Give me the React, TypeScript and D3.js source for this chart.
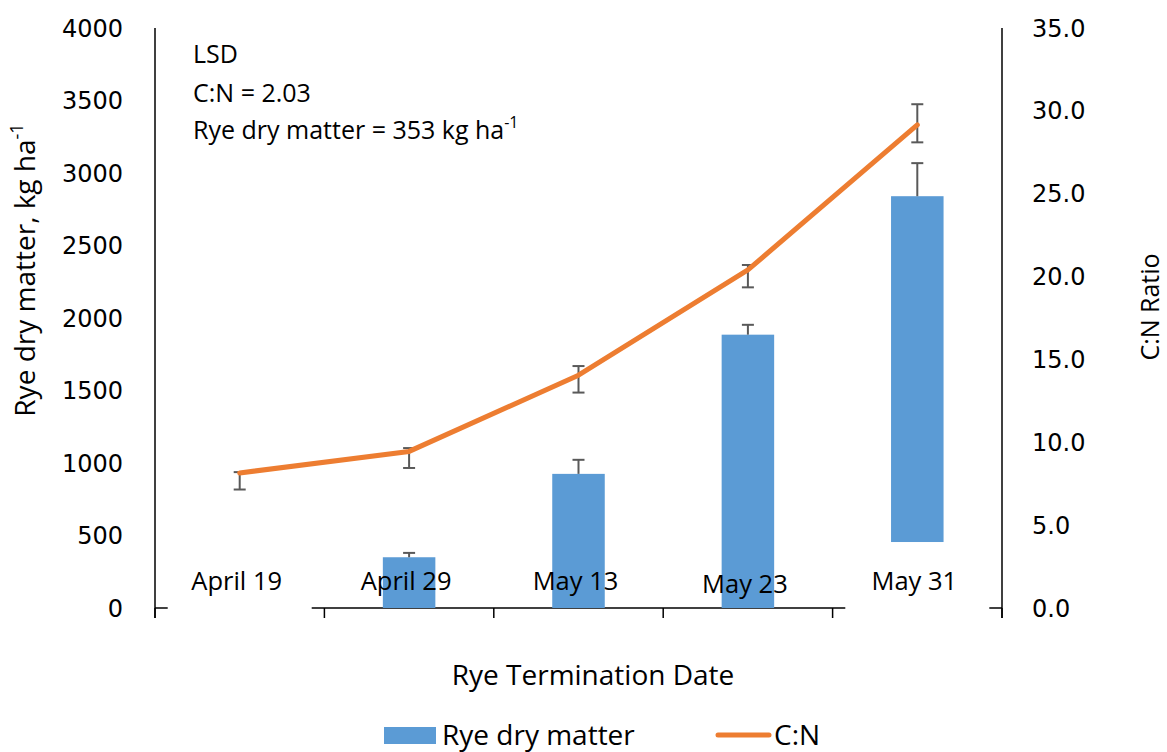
import React from 'react'
import * as d3 from 'd3'

const categories = ['April 19', 'April 29', 'May 13', 'May 23', 'May 31']
// Rye dry matter, kg/ha (no bar for April 19)
const dryMatter: (number | null)[] = [null, 350, 925, 1885, 2840]
const dryMatterErr: (number | null)[] = [null, 30, 97, 68, 228]
// C:N ratio with asymmetric error bars
const cnRatio = [8.15, 9.45, 14.05, 20.4, 29.15]
const cnErrUp = [0.05, 0.2, 0.55, 0.3, 1.25]
const cnErrDown = [1.0, 1.0, 1.05, 1.05, 1.05]
const leftTicks = [0, 500, 1000, 1500, 2000, 2500, 3000, 3500, 4000]
const rightTicks = [0, 5, 10, 15, 20, 25, 30, 35]

const W = 1167
const H = 752
const margin = { top: 28, right: 165, bottom: 144, left: 155 }

const BLUE = '#5B9BD5'
const ORANGE = '#ED7D31'
const ERR = '#595959'
const TXT = 'Open Sans, sans-serif'
const TICK = 'DejaVu Sans, sans-serif'

export default function App() {
    const x0 = margin.left
    const x1 = W - margin.right
    const y0 = H - margin.bottom
    const y1 = margin.top

    const xScale = d3.scaleBand<string>().domain(categories).range([x0, x1]).padding(0)
    const yLeft = d3.scaleLinear().domain([0, 4000]).range([y0, y1])
    const yRight = d3.scaleLinear().domain([0, 35]).range([y0, y1])

    const bw = xScale.bandwidth()
    const barW = bw * 0.31
    const cx = (c: string) => xScale(c)! + bw / 2

    const line = d3
        .line<number>()
        .x((_, i) => cx(categories[i]))
        .y((d) => yRight(d))

    const capW = 12
    const last = categories.length - 1

    return (
        <svg width={W} height={H} style={{ position: 'absolute', left: 0, top: 0 }}>
            <rect width={W} height={H} fill="white" />

            {/* x axis line + ticks */}
            <line x1={x0} x2={x1} y1={y0} y2={y0} stroke="#000" strokeWidth={1.5} />
            {[...categories.map((c) => xScale(c)!), x1].map((t, i) => (
                <line key={i} x1={t} x2={t} y1={y0} y2={y0 + 10} stroke="#000" strokeWidth={1.5} />
            ))}

            {/* bars */}
            {categories.map((c, i) =>
                dryMatter[i] == null ? null : (
                    <rect
                        key={c}
                        x={cx(c) - barW / 2}
                        y={yLeft(dryMatter[i]!)}
                        width={barW}
                        height={y0 - yLeft(dryMatter[i]!)}
                        fill={BLUE}
                    />
                )
            )}
            {/* bar error bars (upward) */}
            {categories.map((c, i) => {
                if (dryMatter[i] == null || dryMatterErr[i] == null) return null
                const yt = yLeft(dryMatter[i]! + dryMatterErr[i]!)
                const yb = yLeft(dryMatter[i]!)
                return (
                    <g key={c} stroke={ERR} strokeWidth={2}>
                        <line x1={cx(c)} x2={cx(c)} y1={yt} y2={yb} />
                        <line x1={cx(c) - capW / 2} x2={cx(c) + capW / 2} y1={yt} y2={yt} />
                    </g>
                )
            })}

            {/* label boxes that sit over the axis for the end categories */}
            {categories.map((c, i) =>
                i === 0 || i === last ? (
                    <rect key={c} x={cx(c) - 72} y={yLeft(455)} width={144} height={y0 + 4 - yLeft(455)} fill="white" />
                ) : null
            )}

            {/* category labels */}
            {categories.map((c, i) => (
                <text key={c} x={cx(c) - 3} y={y0 - (i === 3 ? 15 : 18)} textAnchor="middle" fontFamily={TXT} fontSize={25.5} fill="#000">
                    {c}
                </text>
            ))}

            {/* line error bars */}
            {categories.map((c, i) => {
                const yt = yRight(cnRatio[i] + cnErrUp[i])
                const yb = yRight(cnRatio[i] - cnErrDown[i])
                return (
                    <g key={c} stroke={ERR} strokeWidth={2}>
                        <line x1={cx(c)} x2={cx(c)} y1={yt} y2={yb} />
                        <line x1={cx(c) - capW / 2} x2={cx(c) + capW / 2} y1={yt} y2={yt} />
                        <line x1={cx(c) - capW / 2} x2={cx(c) + capW / 2} y1={yb} y2={yb} />
                    </g>
                )
            })}

            {/* C:N line */}
            <path d={line(cnRatio)!} fill="none" stroke={ORANGE} strokeWidth={5} strokeLinecap="round" strokeLinejoin="round" />

            {/* y axes */}
            <line x1={x0} x2={x0} y1={y1} y2={y0 + 10} stroke="#000" strokeWidth={1.5} />
            <line x1={x1} x2={x1} y1={y1} y2={y0 + 10} stroke="#000" strokeWidth={1.5} />
            {leftTicks.map((t) => (
                <text key={t} x={123} y={yLeft(t)} dy="0.36em" textAnchor="end" fontFamily={TICK} fontSize={24} fill="#000">
                    {t}
                </text>
            ))}
            {rightTicks.map((t) => (
                <text key={t} x={1032} y={yRight(t)} dy="0.36em" textAnchor="start" fontFamily={TICK} fontSize={24} fill="#000">
                    {t.toFixed(1)}
                </text>
            ))}

            {/* axis titles */}
            <text transform={`translate(35, 270) rotate(-90)`} textAnchor="middle" fontFamily={TXT} fontSize={28} fill="#000">
                Rye dry matter, kg ha<tspan fontSize={18} dy={-12}>-1</tspan>
            </text>
            <text transform={`translate(1159, 307) rotate(-90)`} textAnchor="middle" fontFamily={TXT} fontSize={25} fill="#000">
                C:N Ratio
            </text>
            <text x={593} y={685} textAnchor="middle" fontFamily={TXT} fontSize={28} fill="#000">
                Rye Termination Date
            </text>

            {/* LSD note */}
            <g fontFamily={TXT} fontSize={25} fill="#000">
                <text x={193} y={63}>LSD</text>
                <text x={193} y={102}>C:N = 2.03</text>
                <text x={193} y={139}>
                    Rye dry matter = 353 kg ha<tspan fontSize={16} dy={-11}>-1</tspan>
                </text>
            </g>

            {/* legend */}
            <rect x={384} y={727} width={52} height={17} fill={BLUE} />
            <text x={442} y={745} fontFamily={TXT} fontSize={28} fill="#000">Rye dry matter</text>
            <line x1={718} x2={769} y1={735} y2={735} stroke={ORANGE} strokeWidth={5} strokeLinecap="round" />
            <text x={774} y={745} fontFamily={TXT} fontSize={28} fill="#000">C:N</text>
        </svg>
    )
}
